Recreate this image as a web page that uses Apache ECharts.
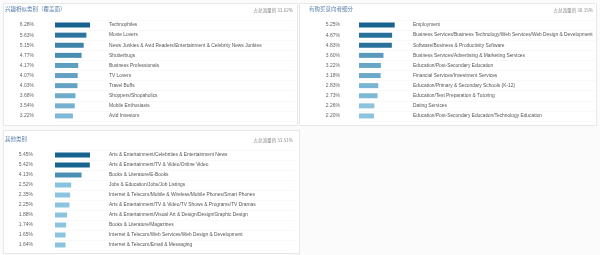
<!DOCTYPE html>
<html><head><meta charset="utf-8">
<script src="https://cdn.jsdelivr.net/npm/echarts@6/dist/echarts.min.js"></script>
<style>html,body{margin:0;padding:0;background:#fbfbfb}#c{width:600px;height:255px}</style>
</head><body><div id="c"></div>
<script>
// ---- data ----
const titleA = '兴趣相似类别（覆盖面）';
const totalA = '占总流量的 33.62%';
const catsA = ['Technophiles','Movie Lovers','News Junkies & Avid Readers/Entertainment & Celebrity News Junkies','Shutterbugs','Business Professionals','TV Lovers','Travel Buffs','Shoppers/Shopaholics','Mobile Enthusiasts','Avid Investors'];
const valsA = [6.28,5.63,5.15,4.77,4.17,4.07,4.03,3.68,3.54,3.22];

const titleB = '有购买意向者细分';
const totalB = '占总流量的 30.15%';
const catsB = ['Employment','Business Services/Business Technology/Web Services/Web Design & Development','Software/Business & Productivity Software','Business Services/Advertising & Marketing Services','Education/Post-Secondary Education','Financial Services/Investment Services','Education/Primary & Secondary Schools (K-12)','Education/Test Preparation & Tutoring','Dating Services','Education/Post-Secondary Education/Technology Education'];
const valsB = [5.25,4.87,4.83,3.60,3.22,3.18,2.83,2.73,2.26,2.20];

const titleC = '其他类别';
const totalC = '占总流量的 33.51%';
const catsC = ['Arts & Entertainment/Celebrities & Entertainment News','Arts & Entertainment/TV & Video/Online Video','Books & Literature/E-Books','Jobs & Education/Jobs/Job Listings','Internet & Telecom/Mobile & Wireless/Mobile Phones/Smart Phones','Arts & Entertainment/TV & Video/TV Shows & Programs/TV Dramas','Arts & Entertainment/Visual Art & Design/Design/Graphic Design','Books & Literature/Magazines','Internet & Telecom/Web Services/Web Design & Development','Internet & Telecom/Email & Messaging'];
const valsC = [5.45,5.42,4.13,2.52,2.35,2.25,1.88,1.74,1.65,1.64];

// ---- styling helpers ----
const FONT = '"Liberation Sans", Arial, sans-serif';
const CJK = '"Noto Sans CJK SC", sans-serif';
function shade(v, max){
  let r = (v/max - 0.45)/0.55; r = Math.max(0, Math.min(1, r));
  const lo=[140,196,224], hi=[23,99,143];
  const c = lo.map((l,i)=>Math.round(l+(hi[i]-l)*r));
  return 'rgb('+c.join(',')+')';
}
const panels = [
  {cats:catsA, vals:valsA, grid:{left:55, top:20, width:240, height:101}, barPx:35, pm:21},
  {cats:catsB, vals:valsB, grid:{left:359, top:20, width:236, height:101}, barPx:35.7, pm:19},
  {cats:catsC, vals:valsC, grid:{left:55, top:150, width:240, height:100}, barPx:35, pm:22}
];
const grid=[], xAxis=[], yAxis=[], series=[];
panels.forEach((p,i)=>{
  grid.push(p.grid);
  const max = Math.max(...p.vals);
  xAxis.push({type:'value', gridIndex:i, min:0, max: max*p.grid.width/p.barPx, show:false});
  yAxis.push({type:'category', gridIndex:i, inverse:true, data:p.vals.map(v=>v.toFixed(2)+'%'),
    axisLine:{show:false}, axisTick:{show:false},
    axisLabel:{margin:p.pm, color:'#666', fontSize:5, fontFamily:FONT},
    splitLine:{show:true, lineStyle:{color:'#f3f3f3', width:0.5}}});
  yAxis.push({type:'category', gridIndex:i, inverse:true, position:'left', data:p.cats,
    axisLine:{show:false}, axisTick:{show:false},
    axisLabel:{inside:true, margin:54, color:'#555', fontSize:4.85, fontFamily:FONT}});
  series.push({type:'bar', xAxisIndex:i, yAxisIndex:2*i, barWidth:5, silent:true,
    data:p.vals.map(v=>({value:v, itemStyle:{color:shade(v,max)}}))});
});
const tStyle = {fontSize:5.5, color:'#5a82ab', fontWeight:'normal', fontFamily:CJK};
const rStyle = {fontSize:4.6, color:'#888', fontWeight:'normal', fontFamily:CJK};
const chart = echarts.init(document.getElementById('c'), null, {renderer:'canvas'});
chart.setOption({
  animation:false,
  backgroundColor:'#fbfbfb',
  graphic:[
    {type:'rect', shape:{x:3.5,y:3.5,width:294,height:122}, style:{fill:'#fff', stroke:'#e8e8e8', lineWidth:1}, z:-10},
    {type:'rect', shape:{x:299.5,y:3.5,width:297,height:122}, style:{fill:'#fff', stroke:'#e8e8e8', lineWidth:1}, z:-10},
    {type:'rect', shape:{x:3.5,y:130.5,width:296,height:123}, style:{fill:'#fff', stroke:'#e8e8e8', lineWidth:1}, z:-10}
  ],
  title:[
    {text:titleA, left:5, top:6, textStyle:tStyle, padding:0},
    {text:titleB, left:309, top:6, textStyle:tStyle, padding:0},
    {text:titleC, left:5, top:136, textStyle:tStyle, padding:0},
    {text:totalA, right:307, top:7.5, textStyle:rStyle, padding:0},
    {text:totalB, right:7, top:7.5, textStyle:rStyle, padding:0},
    {text:totalC, right:307, top:137.5, textStyle:rStyle, padding:0}
  ],
  grid, xAxis, yAxis, series
});
</script></body></html>
